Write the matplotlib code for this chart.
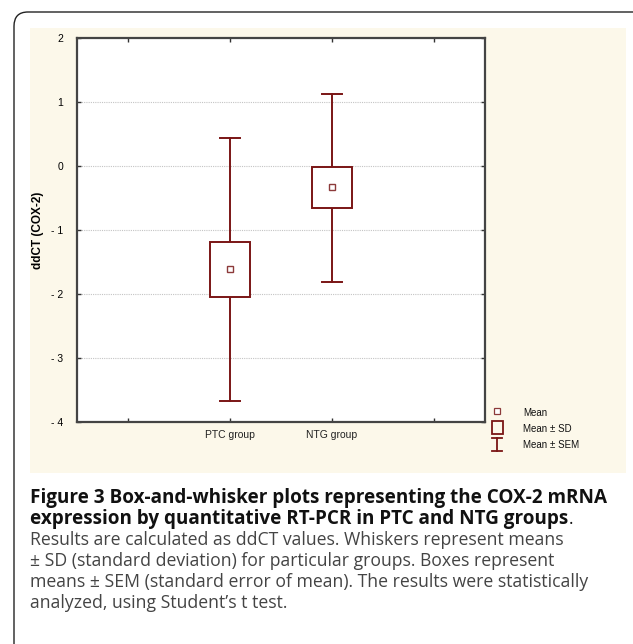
import numpy as np
import matplotlib
matplotlib.use('Agg')
import matplotlib.pyplot as plt
from matplotlib.patches import FancyBboxPatch, Rectangle

W, H = 633, 644

groups = ['PTC group', 'NTG group']
group_pos = [2, 3]
means = [-1.61, -0.33]
box_hi = [-1.19, -0.02]
box_lo = [-2.04, -0.66]
whisk_hi = [0.43, 1.13]
whisk_lo = [-3.67, -1.82]

y_ticks = [2, 1, 0, -1, -2, -3, -4]
y_ticklabels = ['2', '1', '0', '- 1', '- 2', '- 3', '- 4']
x_ticks = [1, 2, 3, 4]
x_ticklabels = ['', 'PTC group', 'NTG group', '']

caption_bold = ['Figure 3 Box-and-whisker plots representing the COX-2 mRNA',
                'expression by quantitative RT-PCR in PTC and NTG groups']
caption_rest = ['Results are calculated as ddCT values. Whiskers represent means',
                '\u00b1 SD (standard deviation) for particular groups. Boxes represent',
                'means \u00b1 SEM (standard error of mean). The results were statistically',
                'analyzed, using Student\u2019s t test.']

red = '#7a1515'
narrow = ['Liberation Sans Narrow', 'Liberation Sans', 'DejaVu Sans']
sans = ['Liberation Sans', 'DejaVu Sans']


def fx(px):
    return px / W


def fy(py):
    return 1 - py / H


fig = plt.figure(figsize=(W / 100, H / 100), dpi=100)

# outer rounded frame and cream panel
frame = FancyBboxPatch((fx(14), fy(680)), fx(660) - fx(14), fy(12) - fy(680),
                       boxstyle='round,pad=0,rounding_size=0.022',
                       transform=fig.transFigure, fill=False, ec='#222222', lw=1.0, zorder=-2)
fig.patches.append(frame)
fig.patches.append(Rectangle((fx(30), fy(473)), fx(626) - fx(30), fy(28) - fy(473),
                             transform=fig.transFigure, fc='#fcf8ea', ec='none', zorder=-1))

ax = fig.add_axes([fx(77), fy(422), fx(485) - fx(77), fy(38) - fy(422)])
ax.set_facecolor('white')
ax.set_xlim(0.5, 4.5)
ax.set_ylim(-4, 2)

for y in y_ticks[1:-1]:
    ax.axhline(y, color='#c4c4c4', lw=0.8, ls=(0, (1, 1)), zorder=1)

box_w = 0.4
cap_w = 0.2
for i in range(len(groups)):
    x = group_pos[i]
    ax.plot([x, x], [box_hi[i], whisk_hi[i]], color=red, lw=1.4, zorder=2)
    ax.plot([x, x], [box_lo[i], whisk_lo[i]], color=red, lw=1.4, zorder=2)
    ax.plot([x - cap_w / 2, x + cap_w / 2], [whisk_hi[i]] * 2, color=red, lw=1.4, zorder=2)
    ax.plot([x - cap_w / 2, x + cap_w / 2], [whisk_lo[i]] * 2, color=red, lw=1.4, zorder=2)
    ax.add_patch(Rectangle((x - box_w / 2, box_lo[i]), box_w, box_hi[i] - box_lo[i],
                           fc='white', ec=red, lw=1.4, zorder=3))
    ax.plot([x], [means[i]], marker='s', ms=5, mfc='white', mec='#8c3a3a', mew=1.0, zorder=4)

ax.set_yticks(y_ticks)
ax.set_yticklabels(y_ticklabels, fontsize=7.5, family=narrow)
ax.set_xticks(x_ticks)
ax.set_xticklabels(x_ticklabels, fontsize=7.5, family=sans, color='#222222')
ax.tick_params(direction='in', length=3, width=1, top=True, right=True, color='#333333')
ax.tick_params(axis='y', pad=10)
ax.tick_params(axis='x', pad=6)
for s in ax.spines.values():
    s.set_color('#444444')
    s.set_linewidth(1.6)
ax.set_ylabel('ddCT (COX-2)', fontsize=8.5, fontweight='bold', family=sans)
ax.yaxis.set_label_coords(-0.08, 0.5)

# legend drawn by hand
lg = fig.add_axes([fx(486), fy(455), fx(600) - fx(486), fy(403) - fy(455)])
lg.set_xlim(0, 114)
lg.set_ylim(52, 0)
lg.axis('off')
lg.plot([11], [8], marker='s', ms=4, mfc='white', mec='#8c3a3a', mew=0.9)
lg.add_patch(Rectangle((6, 18), 11, 13, fc='none', ec=red, lw=1.3))
lg.plot([11, 11], [35, 48], color=red, lw=1.3)
lg.plot([6, 16], [35, 35], color=red, lw=1.3)
lg.plot([6, 16], [48, 48], color=red, lw=1.3)
for yy, txt in zip([10, 26, 42], ['Mean', 'Mean \u00b1 SD', 'Mean \u00b1 SEM']):
    lg.text(37, yy, txt, fontsize=7, family=sans, va='center', ha='left', color='#111111')

# caption
cap_font = ['Open Sans', 'DejaVu Sans']
base = 503
pitch = 21
t = None
for k, line in enumerate(caption_bold):
    t = fig.text(fx(30), fy(base + k * pitch), line, fontsize=13.6, fontweight='bold',
                 family=cap_font, va='baseline', ha='left', color='#111111')
fig.canvas.draw()
bb = t.get_window_extent(renderer=fig.canvas.get_renderer())
fig.text(bb.x1 / W + 0.001, fy(base + pitch), '.', fontsize=12.7, family=cap_font,
         va='baseline', ha='left', color='#111111')
for k, line in enumerate(caption_rest):
    fig.text(fx(30), fy(base + (k + 2) * pitch), line, fontsize=12.7,
             family=cap_font, va='baseline', ha='left', color='#444444')

fig.savefig('out.png', dpi=100)
